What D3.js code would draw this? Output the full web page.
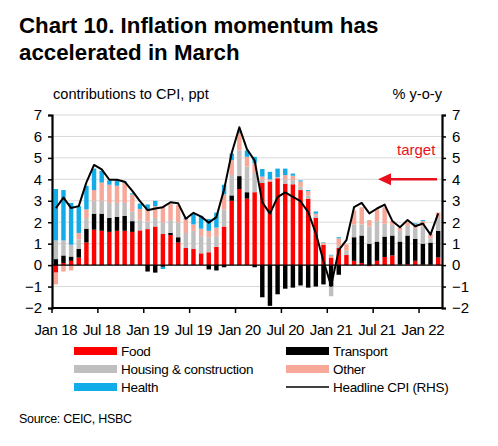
<!DOCTYPE html>
<html>
<head>
<meta charset="utf-8">
<script src="https://cdn.jsdelivr.net/npm/d3@7"></script>
<style>
  body { margin: 0; background: #fff; }
  text { font-family: "Liberation Sans", Arial, sans-serif; }
</style>
</head>
<body>
<div id="chart"></div>
<script>
// Données
const months = d3.range(51).map(i => new Date(2018, i, 1));
const food      = [-0.35,0.1,0.2,0.35,1.05,1.65,1.6,1.55,1.6,1.6,1.55,1.62, 1.68,1.8,1.45,1.4,1.05,0.8,0.75,0.55,0.6,0.85,1.8,3.0, 3.55,3.1,3.4,3.83,3.9,4.05,3.8,3.77,3.5,3.1,2.2,0.95, 0.35,0.8,0.47,0.2,0.1,-0.05,0.2,0.38,0.45,0.02,0.05,0.2, 0.02,0.02,0.35];
const transport = [0.28,0.35,0.2,0.4,0.65,0.75,0.8,0.65,0.65,0.7,0.5,0, -0.3,-0.35,-0.08,0.1,0.25,0,0,0,-0.2,-0.25,-0.1,0.25, 0.6,0.3,-0.1,-1.5,-1.9,-1.36,-1.1,-1.05,-0.95,-1.05,-1.0,-0.9, -1.0,-0.45,0,1.1,1.28,1.0,0.9,0.95,0.93,1.08,1.33,1.02, 0.98,1.03,1.25];
const housing   = [0.87,0.7,0.55,0.45,0.5,0.6,0.6,0.7,0.65,0.6,0.45,0.5, 0.35,0.4,0.55,0.6,0.7,0.7,0.85,0.8,0.7,0.5,0.8,0.95, 1.2,1.2,0.9,0.15,0.05,0,0.2,0.2,0.15,0.15,0.1,0, -0.45,0.1,0.2,0.6,0.52,0.8,0.95,0.6,0.5,0.5,0.45,0.5, 0.8,0.2,0.6];
const other     = [-0.55,-0.3,-0.25,0.3,0.4,0.5,0.85,0.85,0.8,0.95,0.8,0.5, 0.55,0.55,0.7,0.75,0.8,0.65,0.3,0.35,0.3,0.4,0.7,0.7, 0.8,0.45,0.45,0.15,0.05,0.05,0.2,0.2,0.25,0.2,0.1,0.1, 0.1,0.35,0.3,0.65,0.8,0.3,0.55,0.77,0.17,0.15,0.17,0.18, 0.25,0.2,0.25];
const health    = [2.4,2.35,1.95,1.25,1.1,1.0,0.55,0.2,0.25,0.05,0.05,0.25, 0.25,0.25,-0.1,0,0,0.05,0.5,0.6,0.55,0.7,0.45,0.3, 0.1,0.3,0.3,0.35,0.35,0.4,0.3,0.1,0.05,0.05,0.1,0.02, 0.03,0.05,0,0,0,0,0,0,0,0,0,0.05, 0.05,0,0];
const cpi       = [2.65,3.15,2.66,2.75,3.86,4.67,4.46,3.98,3.98,3.89,3.46,2.98, 2.56,2.64,2.7,2.93,2.88,2.16,2.44,2.26,1.98,2.24,3.52,5.23, 6.43,5.4,4.87,2.93,2.4,3.17,3.39,3.18,2.98,2.47,1.48,0.19, -0.97,0.7,1.16,2.7,2.9,2.41,2.64,2.82,2.06,1.77,2.1,1.81, 1.94,1.42,2.41];
const yTicks = d3.range(-2, 8);
const target = 4;

const series = [
    {key: "food", label: "Food", color: "#ff0000", values: food},
    {key: "transport", label: "Transport", color: "#000000", values: transport},
    {key: "housing", label: "Housing & construction", color: "#bfbfbf", values: housing},
    {key: "other", label: "Other", color: "#f7a898", values: other},
    {key: "health", label: "Health", color: "#12ade8", values: health}
];

const table = months.map((m, i) => {
    const row = {month: m, cpi: cpi[i]};
    series.forEach(s => row[s.key] = s.values[i]);
    return row;
});

const width = 498, height = 446;
const margin = {top: 115, right: 56, bottom: 138, left: 52};
const w = width - margin.left - margin.right,
    h = height - margin.top - margin.bottom;

const svg = d3.select('#chart').append('svg')
    .attr('width', width)
    .attr('height', height);

// Titre
svg.append('text').attr('x', 19).attr('y', 33)
    .attr('font-size', 22.3).attr('font-weight', 'bold')
    .text('Chart 10. Inflation momentum has');
svg.append('text').attr('x', 19).attr('y', 60)
    .attr('font-size', 22.3).attr('font-weight', 'bold')
    .text('accelerated in March');
svg.append('text').attr('x', 53).attr('y', 99)
    .attr('font-size', 14.6)
    .text('contributions to CPI, ppt');
svg.append('text').attr('x', 442).attr('y', 99)
    .attr('font-size', 14.6).attr('text-anchor', 'end')
    .text('% y-o-y');

const g = svg.append('g')
    .attr('transform', `translate(${margin.left},${margin.top})`);

const x = d3.scaleBand().domain(months).range([0, w]).paddingInner(0.42).paddingOuter(0.21);
const y = d3.scaleLinear().domain([-2, 7]).range([h, 0]);
const yR = d3.scaleLinear().domain([-2, 7]).range([h, 0]);

// Grille
g.selectAll('.grid').data(yTicks.filter(t => t > -2)).join('line')
    .attr('x1', 0).attr('x2', w)
    .attr('y1', d => y(d)).attr('y2', d => y(d))
    .attr('stroke', '#d9d9d9').attr('stroke-width', 1);

// Barres empilées
const stack = d3.stack().keys(series.map(s => s.key)).offset(d3.stackOffsetDiverging);
const stacked = stack(table);

g.selectAll('.layer').data(stacked).join('g')
    .attr('fill', d => series.find(s => s.key === d.key).color)
    .selectAll('rect').data(d => d).join('rect')
    .attr('x', d => x(d.data.month))
    .attr('width', x.bandwidth())
    .attr('y', d => y(Math.max(d[0], d[1])))
    .attr('height', d => Math.abs(y(d[0]) - y(d[1])));

// Ligne zéro
g.append('line').attr('x1', 0).attr('x2', w)
    .attr('y1', y(0)).attr('y2', y(0))
    .attr('stroke', '#000').attr('stroke-width', 1.3);

// CPI
const line = d3.line()
    .x(d => x(d.month) + x.bandwidth() / 2)
    .y(d => yR(d.cpi));
g.append('path').datum(table)
    .attr('fill', 'none').attr('stroke', '#000').attr('stroke-width', 2)
    .attr('stroke-linejoin', 'round')
    .attr('d', line);

// Axes
const yAxisL = g.append('g').call(d3.axisLeft(y).tickValues(yTicks).tickSize(4).tickPadding(6));
const yAxisR = g.append('g').attr('transform', `translate(${w},0)`)
    .call(d3.axisRight(yR).tickValues(yTicks).tickSize(4).tickPadding(6));
[yAxisL, yAxisR].forEach(a => {
    a.select('.domain').attr('stroke-width', 2.2);
    a.selectAll('.tick line').attr('stroke-width', 1.5);
    a.selectAll('text').attr('font-size', 15).attr('fill', '#000')
        .attr('font-family', '"Liberation Sans", Arial, sans-serif');
});

// Axe X : traits tous les 6 mois, étiquettes sur janvier et juillet
const step = x.step();
const xa = g.append('g').attr('transform', `translate(0,${h})`);
xa.append('line').attr('x1', 0).attr('x2', w).attr('stroke', '#000').attr('stroke-width', 2.2);
const labelMonths = months.filter(m => m.getMonth() % 6 === 0);
xa.selectAll('.xt').data(labelMonths).join('line')
    .attr('x1', d => x(d) - x.paddingInner() * step / 2).attr('x2', d => x(d) - x.paddingInner() * step / 2)
    .attr('y1', 0).attr('y2', 5)
    .attr('stroke', '#000').attr('stroke-width', 1.5);
xa.selectAll('.xl').data(labelMonths).join('text')
    .attr('x', d => x(d) + x.bandwidth() / 2)
    .attr('y', 27)
    .attr('text-anchor', 'middle')
    .attr('font-size', 15).attr('letter-spacing', -0.4)
    .text(d => d3.timeFormat('%b %y')(d));

// Cible
g.append('text').attr('x', 345).attr('y', 155 - margin.top)
    .attr('fill', '#e8101c').attr('font-size', 15)
    .text('target');
const ty = yR(target);
g.append('line').attr('x1', 385 - margin.left).attr('x2', 437 - margin.left)
    .attr('y1', ty).attr('y2', ty)
    .attr('stroke', '#e8101c').attr('stroke-width', 2.5);
g.append('path')
    .attr('d', `M${378 - margin.left},${ty} L${391 - margin.left},${ty - 6} L${391 - margin.left},${ty + 6} Z`)
    .attr('fill', '#e8101c');

// Légende
const legend = svg.append('g');
const legendItems = [
    {label: "Food", color: "#ff0000", col: 0, row: 0},
    {label: "Transport", color: "#000000", col: 1, row: 0},
    {label: "Housing & construction", color: "#bfbfbf", col: 0, row: 1},
    {label: "Other", color: "#f7a898", col: 1, row: 1},
    {label: "Health", color: "#12ade8", col: 0, row: 2},
    {label: "Headline CPI (RHS)", color: "#000000", col: 1, row: 2, line: true}
];
const lg = legend.selectAll('g').data(legendItems).join('g')
    .attr('transform', d => `translate(${d.col === 0 ? 74 : 286},${351 + d.row * 18})`);
lg.filter(d => !d.line).append('rect')
    .attr('x', 0).attr('y', -4).attr('width', 43).attr('height', 8)
    .attr('fill', d => d.color);
lg.filter(d => d.line).append('line')
    .attr('x1', 0).attr('x2', 43).attr('stroke', '#000').attr('stroke-width', 1.5);
lg.append('text').attr('x', 47).attr('y', 5)
    .attr('font-size', 13.5).attr('letter-spacing', -0.3)
    .text(d => d.label);

svg.append('text').attr('x', 19).attr('y', 423)
    .attr('font-size', 12.5).attr('letter-spacing', -0.3)
    .text('Source: CEIC, HSBC');
</script>
</body>
</html>
